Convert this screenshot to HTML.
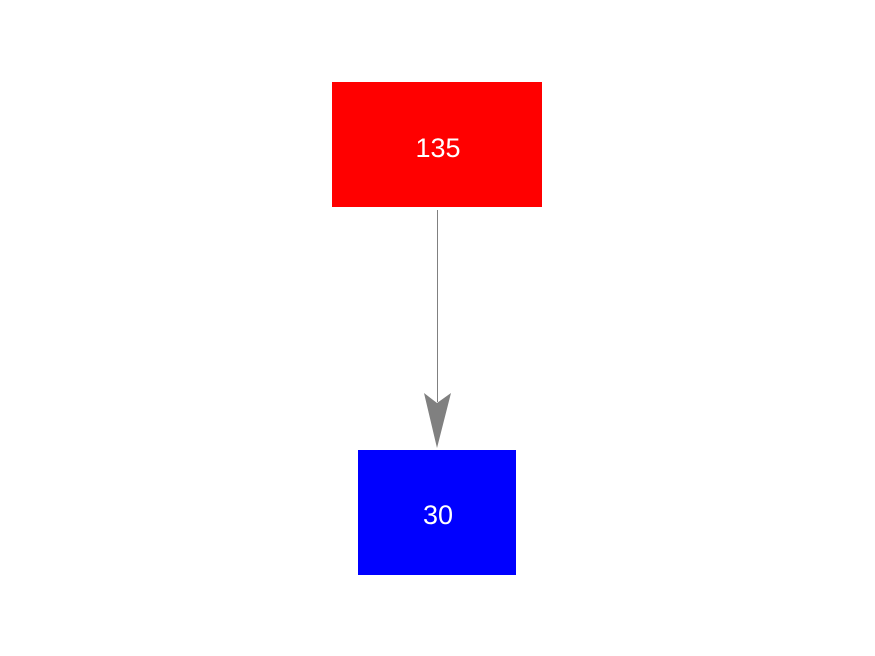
<!DOCTYPE html>
<html><head><meta charset="utf-8"><style>
html,body{margin:0;padding:0;background:#fff;width:875px;height:656px;overflow:hidden}
</style></head><body>
<svg width="875" height="656" xmlns="http://www.w3.org/2000/svg">
<rect x="332" y="82" width="210" height="125" fill="#ff0000"/>
<text x="438" y="157" font-family="Liberation Sans, sans-serif" font-size="27" fill="#fff" text-anchor="middle">135</text>
<line x1="437.5" y1="210" x2="437.5" y2="402" stroke="#808080" stroke-width="1"/>
<polygon points="424,393 437,403 451,393 437,448" fill="#808080"/>
<rect x="358" y="450" width="158" height="125" fill="#0000ff"/>
<text x="438" y="524" font-family="Liberation Sans, sans-serif" font-size="27" fill="#fff" text-anchor="middle">30</text>
</svg>
</body></html>
